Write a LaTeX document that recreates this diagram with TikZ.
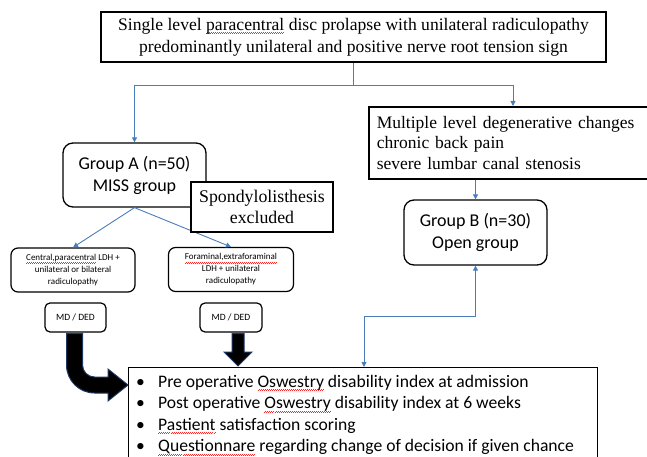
\documentclass[tikz,border=0pt]{standalone}
\usepackage{fontspec}
\setmainfont{Liberation Serif}
\newfontfamily\calfont{Carlito}
\usetikzlibrary{arrows.meta}
\definecolor{lnblue}{HTML}{4A7EBB}
\definecolor{navy}{HTML}{1F3864}
\newsavebox\wavebox
\newsavebox\wtmpbox
\sbox\wavebox{\color{red!85}\rule[0pt]{1pt}{0.4pt}\rule[0.7pt]{1pt}{0.4pt}}
\newcommand\redwave[1]{\sbox\wtmpbox{#1}\leavevmode\rlap{\raisebox{-3pt}{\hbox to \wd\wtmpbox{\xleaders\copy\wavebox\hfil}}}#1}
\tikzset{
  sqbox/.style={draw=black, line width=1.6pt, fill=white, inner sep=0pt, align=center},
  rbox/.style={draw=black, line width=1.3pt, fill=white, rounded corners=10pt, inner sep=0pt, align=center, font=\calfont\fontsize{18}{22}\selectfont},
  smallbox/.style={draw=black, line width=1.2pt, fill=white, rounded corners=7pt, inner sep=0pt, align=center, font=\calfont\fontsize{9}{12}\selectfont},
  conn/.style={draw=lnblue, line width=0.9pt},
  tip/.style={-{Triangle[width=5pt,length=5pt]}},
  bigarrow/.style={fill=black, draw=navy, line width=1pt, line join=miter}
}
\begin{document}
\begin{tikzpicture}[x=1pt,y=-1pt]
\useasboundingbox (0,0) rectangle (647,457);
\clip (0,0) rectangle (647,457);
% nodes
\node[sqbox, minimum width=505pt, minimum height=50pt, font=\fontsize{17.6}{22}\selectfont] (top) at (353.5,37)
  {Single level \redwave{paracentral} disc prolapse with unilateral radiculopathy\\predominantly unilateral and positive nerve root tension sign};
\node[sqbox, anchor=north west, minimum height=72pt, text width=266pt, inner xsep=8pt, align=left, font=\fontsize{17.5}{20.5}\selectfont] (multi) at (368,106)
  {Multiple level degenerative changes\\chronic back pain\\severe lumbar canal stenosis};
\node[rbox, minimum width=143pt, minimum height=64pt] (gA) at (134.5,175) {Group A (n=50)\\MISS group};
\node[rbox, minimum width=143pt, minimum height=65pt] (gB) at (475.5,232.5) {Group B (n=30)\\Open group};
\node[smallbox, minimum width=124pt, minimum height=44pt] (cen) at (73,270) {\redwave{Central,paracentral} LDH +\\unilateral or bilateral\\radiculopathy};
\node[smallbox, minimum width=125pt, minimum height=44pt] (for) at (231,269.5) {\redwave{Foraminal,extraforaminal}\\LDH + unilateral\\radiculopathy};
\node[smallbox, rounded corners=5pt, minimum width=61pt, minimum height=29pt, font=\calfont\fontsize{9.6}{11}\selectfont] (md1) at (75.5,317.5) {MD / DED};
\node[smallbox, rounded corners=5pt, minimum width=62pt, minimum height=29pt, font=\calfont\fontsize{9.6}{11}\selectfont] (md2) at (231,317.5) {MD / DED};
\node[draw=black, line width=1.4pt, fill=white, anchor=north west, minimum width=469pt, minimum height=110pt, inner sep=0pt] (res) at (128,367) {};
\node[anchor=north west, inner sep=0pt, align=left, font=\calfont\fontsize{17.6}{21.5}\selectfont] (restext) at (136,375)
  {\makebox[22pt][l]{\textbullet}Pre operative \redwave{Oswestry} disability index at admission\\
   \makebox[22pt][l]{\textbullet}Post operative \redwave{Oswestry} disability index at 6 weeks\\
   \makebox[22pt][l]{\textbullet}\redwave{Pastient} satisfaction scoring\\
   \makebox[22pt][l]{\textbullet}\redwave{Questionnare} regarding change of decision if given chance};
% connectors
\coordinate (split) at (top.south |- 0,85);
\coordinate (mtop) at (513,106);
\draw[conn] (top.south) -- (split);
\draw[conn, tip] (split) -| (gA.north);
\draw[conn, tip] (split) -| (mtop);
\draw[conn, tip] (multi.south -| gB.north) -- (gB.north);
\coordinate (bend) at (gB.south |- 0,316);
\coordinate (rtop) at (364,367);
\draw[conn, {Triangle[width=5pt,length=5pt]}-{Triangle[width=5pt,length=5pt]}] (gB.south) -- (bend) -| (rtop);
\draw[conn, tip] (gA.south) -- (cen.north);
\draw[conn, tip] (gA.south) -- (for.north);
% spondylolisthesis box on top of group A
\node[sqbox, line width=1.4pt, minimum width=142pt, minimum height=50pt, font=\fontsize{17.8}{21}\selectfont] (spond) at (262,207) {Spondylolisthesis\\excluded};
% thick arrows
\filldraw[bigarrow] (66.5,333.5) -- (66.5,365) arc[start angle=180, end angle=90, radius=28] -- (108,393) -- (108,401) -- (128,385) -- (108,369) -- (108,377) -- (94.5,377) arc[start angle=90, end angle=180, radius=12] -- (82.5,333.5) -- cycle;
\filldraw[bigarrow] (232,333.5) -- (232,352) -- (224,352) -- (238,366) -- (252,352) -- (244,352) -- (244,333.5) -- cycle;
\end{tikzpicture}
\end{document}
